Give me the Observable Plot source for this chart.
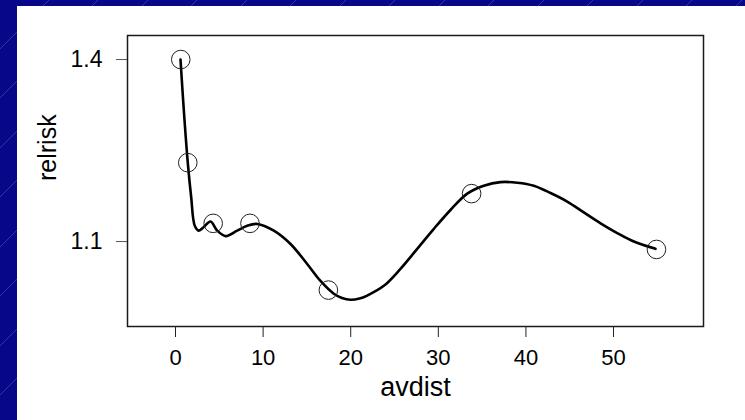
<!DOCTYPE html>
<html>
<head>
<meta charset="utf-8">
<script src="https://cdn.jsdelivr.net/npm/d3@7"></script>
<script src="https://cdn.jsdelivr.net/npm/@observablehq/plot@0.6"></script>
<style>
  html, body { margin: 0; padding: 0; }
  body {
    width: 745px; height: 420px; overflow: hidden; position: relative;
    background: repeating-linear-gradient(135deg, #07078a 0px, #07078a 34px, #3434a8 34px, #3434a8 35px);
    font-family: "Liberation Sans", Arial, sans-serif;
  }
  #panel { position: absolute; left: 17px; top: 6px; width: 728px; height: 414px; background: #fff; }
  #panel svg { display: block; }
</style>
</head>
<body>
<div id="panel"></div>
<script>
// Observed points (circles)
const pointX = [0.6, 1.4, 4.3, 8.5, 17.45, 33.8, 54.9];
const pointY = [1.400, 1.230, 1.130, 1.130, 1.020, 1.179, 1.087];

// Smooth fitted curve
const curveX = [0.57, 0.95, 1.40, 1.79, 2.20, 2.66, 3.23, 4.00, 4.76, 5.71, 7.04, 8.18, 9.33, 11.22, 13.13, 15.03, 16.55, 18.07, 19.0, 19.98, 21.0, 21.88, 23.78, 25.68, 27.59, 29.49, 31.39, 33.30, 35.19, 37.10, 39.01, 40.90, 42.81, 44.71, 46.61, 48.52, 50.42, 52.32, 54.79];
const curveY = [1.400, 1.316, 1.230, 1.173, 1.126, 1.118, 1.124, 1.133, 1.118, 1.109, 1.118, 1.126, 1.129, 1.118, 1.096, 1.063, 1.035, 1.014, 1.007, 1.004, 1.006, 1.011, 1.027, 1.055, 1.088, 1.121, 1.152, 1.179, 1.192, 1.198, 1.197, 1.192, 1.180, 1.166, 1.148, 1.130, 1.114, 1.100, 1.088];

const xTicks = [0, 10, 20, 30, 40, 50];
const yTicks = [1.1, 1.4];
const xLabel = "avdist";
const yLabel = "relrisk";

const points = pointX.map((x, i) => ({x, y: pointY[i]}));
const curve = curveX.map((x, i) => ({x, y: curveY[i]}));

const chart = Plot.plot({
  width: 728,
  height: 414,
  marginLeft: 110,
  marginRight: 42,
  marginTop: 29,
  marginBottom: 94,
  style: { fontFamily: "'Liberation Sans', Arial, sans-serif", fontSize: "22px", background: "transparent", color: "#000" },
  x: { domain: [-5.48, 60.27] },
  y: { domain: [0.960, 1.4396] },
  marks: [
    Plot.frame({ stroke: "#1a1a1a", strokeWidth: 1.5 }),
    Plot.axisX(xTicks, { ticks: xTicks, tickSize: 11, tickPadding: 12, fontSize: 22, label: null, stroke: "#222" }),
    Plot.axisY(yTicks, { ticks: yTicks, tickSize: 11, tickPadding: 14, fontSize: 23, label: null, stroke: "#555", tickFormat: d3.format(".1f") }),
    Plot.line(curve, { x: "x", y: "y", curve: "catmull-rom", stroke: "#000", strokeWidth: 2.6 }),
    Plot.dot(points, { x: "x", y: "y", r: 9.3, stroke: "#222", strokeWidth: 1, fill: "none" }),
    Plot.text([xLabel], { frameAnchor: "bottom", text: d => d, dy: 69, fontSize: 27, fill: "#000" }),
    Plot.text([yLabel], { frameAnchor: "left", text: d => d, dx: -80, rotate: -90, fontSize: 25, fill: "#000" })
  ]
});
document.getElementById("panel").appendChild(chart);
</script>
</body>
</html>
